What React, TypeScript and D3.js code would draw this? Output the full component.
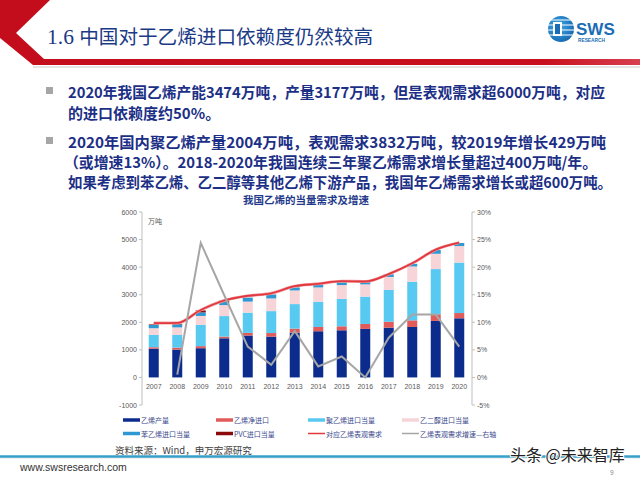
import React from 'react';
import * as d3 from 'd3';

const years = ['2007', '2008', '2009', '2010', '2011', '2012', '2013', '2014', '2015', '2016', '2017', '2018', '2019', '2020'];
const production = [1040, 1010, 1060, 1420, 1520, 1480, 1625, 1675, 1710, 1760, 1805, 1830, 2050, 2145];
const netImport = [55, 70, 75, 60, 95, 130, 145, 155, 145, 180, 215, 240, 240, 190];
const peImport = [450, 460, 770, 745, 735, 795, 890, 915, 990, 990, 1155, 1400, 1640, 1830];
const egImport = [240, 275, 325, 400, 400, 460, 495, 520, 505, 445, 470, 555, 555, 600];
const styreneImport = [120, 110, 130, 120, 145, 145, 110, 110, 110, 100, 95, 95, 140, 110];
const pvcImport = [20, 20, 70, 45, 0, 0, 0, 0, 0, 0, 0, 0, 0, 0];
const demand = [1970, 1975, 2445, 2790, 2960, 3050, 3310, 3395, 3490, 3480, 3750, 4140, 4635, 4890];
const growth: (number | null)[] = [null, 0.5, 24.4, 14.9, 5.6, 2.3, 8.4, 2.0, 3.8, 0.0, 7.2, 11.4, 11.4, 5.6];

const leftTicks = [-1000, 0, 1000, 2000, 3000, 4000, 5000, 6000];
const rightTicks = [-5, 0, 5, 10, 15, 20, 25, 30];

const seriesNames = ['乙烯产量', '乙烯净进口', '聚乙烯进口当量', '乙二醇进口当量', '苯乙烯进口当量', 'PVC进口当量'];
const seriesColors = ['#0b2c8c', '#e15b5b', '#58c9f1', '#f6d4d7', '#2e98d2', '#8b0a0a'];
const lineNames = ['对应乙烯表观需求', '乙烯表观需求增速—右轴'];
const lineColors = ['#e0383e', '#a6a6a6'];

const bullet1 = ['2020年我国乙烯产能3474万吨，产量3177万吨，但是表观需求超6000万吨，对应', '的进口依赖度约50%。'];
const bullet2 = [
  '2020年国内聚乙烯产量2004万吨，表观需求3832万吨，较2019年增长429万吨',
  '（或增速13%）。2018-2020年我国连续三年聚乙烯需求增长量超过400万吨/年。',
  '如果考虑到苯乙烯、乙二醇等其他乙烯下游产品，我国年乙烯需求增长或超600万吨。',
];

const CJK = '"Noto Sans CJK SC", "Noto Sans", sans-serif';
const SANS = '"Liberation Sans", Arial, sans-serif';

export default function App() {
  const seriesArrays = [production, netImport, peImport, egImport, styreneImport, pvcImport];
  const table = years.map((y, i) => {
    const row: any = { year: y };
    seriesNames.forEach((n, k) => (row[n] = seriesArrays[k][i]));
    return row;
  });
  const stacked = d3.stack().keys(seriesNames)(table);

  const x = d3.scaleBand().domain(years).range([142, 471]).padding(0);
  const y = d3.scaleLinear().domain([-1000, 6000]).range([405, 212]);
  const yR = d3.scaleLinear().domain([-5, 30]).range([405, 212]);
  const bw = 10;
  const cx = (yr: string) => (x(yr) as number) + x.bandwidth() / 2;

  const demandLine = d3
    .line<number>()
    .x((_, i) => cx(years[i]))
    .y((d) => y(d))
    .curve(d3.curveMonotoneX)(demand) as string;

  const growthLine = d3
    .line<number | null>()
    .defined((d) => d !== null)
    .x((_, i) => cx(years[i]))
    .y((d) => yR(d as number))(growth) as string;

  const legendCols = [123, 216, 308, 402];
  const legendRows = [420, 433.5];
  const legendItems = [
    ...seriesNames.map((n, i) => ({ name: n, color: seriesColors[i], bar: true })),
    ...lineNames.map((n, i) => ({ name: n, color: lineColors[i], bar: false })),
  ];

  return (
    <svg width={640} height={480} style={{ position: 'fixed', left: 0, top: 0, background: '#fff' }}>
      <rect width={640} height={480} fill="#fff" />
      <defs>
        <linearGradient id="band" x1="0" x2="1" y1="0" y2="0">
          <stop offset="0" stopColor="#c40d1c" />
          <stop offset="0.85" stopColor="#c8101e" />
          <stop offset="1" stopColor="#d84050" />
        </linearGradient>
        <radialGradient id="logo" cx="0.4" cy="0.4" r="0.7">
          <stop offset="0" stopColor="#3fa9e6" />
          <stop offset="1" stopColor="#1363ad" />
        </radialGradient>
      </defs>

      {/* header */}
      <polygon points="0,0 50,0 16,33 44,59 640,59 640,65 33,65 0,38" fill="url(#band)" />
      <line x1={33} x2={640} y1={67} y2={67} stroke="#dcdcdc" strokeWidth={1.5} />
      <text x={47} y={44} fontSize={19.6} fill="#1b3a86" fontFamily={CJK}>
        <tspan fontFamily='"Liberation Serif", serif' fontSize={21.5}>1.6 </tspan>
        中国对于乙烯进口依赖度仍然较高
      </text>

      {/* logo */}
      <g>
        <circle cx={561} cy={29} r={13} fill="url(#logo)" />
        {[20, 25, 30, 35].map((yy) => (
          <line key={yy} x1={548} x2={574} y1={yy} y2={yy} stroke="#fff" strokeWidth={1} />
        ))}
        <rect x={553} y={22} width={9} height={14} fill="#fff" />
        <rect x={555} y={24} width={5} height={10} fill="#1a6db5" />
        <text x={576} y={35} fontSize={17} fontWeight="bold" fill="#1a6db5" fontFamily={SANS}>SWS</text>
        <text x={578} y={42} fontSize={4.8} fontWeight="bold" fill="#1a6db5" fontFamily={SANS}>RESEARCH</text>
      </g>

      {/* bullets */}
      <rect x={46} y={87} width={7} height={7} fill="#a6a6a6" />
      <rect x={46} y={137} width={7} height={7} fill="#a6a6a6" />
      <g fontFamily={CJK} fontWeight="bold" fill="#1c2f86" fontSize={15}>
        <text x={68} y={91} dominantBaseline="central" textLength={537} lengthAdjust="spacingAndGlyphs">{bullet1[0]}</text>
        <text x={68} y={112} dominantBaseline="central">{bullet1[1]}</text>
        <text x={68} y={141} dominantBaseline="central" textLength={538} lengthAdjust="spacingAndGlyphs">{bullet2[0]}</text>
        <text x={64} y={161} dominantBaseline="central" textLength={533} lengthAdjust="spacingAndGlyphs">{bullet2[1]}</text>
        <text x={68} y={181} dominantBaseline="central" textLength={544} lengthAdjust="spacingAndGlyphs">{bullet2[2]}</text>
      </g>

      {/* chart title */}
      <text x={306} y={199} textAnchor="middle" dominantBaseline="central" fontSize={10.5} fontWeight="bold" fill="#1f3a8a" fontFamily={CJK}>
        我国乙烯的当量需求及增速
      </text>

      {/* axes */}
      <line x1={142} x2={142} y1={212} y2={405} stroke="#bfbfbf" />
      <line x1={472} x2={472} y1={212} y2={405} stroke="#bfbfbf" />
      {leftTicks.map((t) => (
        <g key={'l' + t}>
          <line x1={139} x2={142} y1={y(t)} y2={y(t)} stroke="#bfbfbf" />
          <text x={137} y={y(t)} textAnchor="end" dominantBaseline="central" fontSize={7} fill="#595959" fontFamily={SANS}>{t}</text>
        </g>
      ))}
      {rightTicks.map((t) => (
        <g key={'r' + t}>
          <line x1={472} x2={475} y1={yR(t)} y2={yR(t)} stroke="#bfbfbf" />
          <text x={477} y={yR(t)} dominantBaseline="central" fontSize={7} fill="#595959" fontFamily={SANS}>{t + '%'}</text>
        </g>
      ))}
      <text x={148} y={221} dominantBaseline="central" fontSize={7} fill="#595959" fontFamily={CJK}>万吨</text>
      {years.map((yr) => (
        <text key={yr} x={cx(yr)} y={386} textAnchor="middle" dominantBaseline="central" fontSize={7} fill="#595959" fontFamily={SANS}>{yr}</text>
      ))}

      {/* bars */}
      {stacked.map((s, k) => (
        <g key={s.key} fill={seriesColors[k]}>
          {s.map((d, i) =>
            d[1] - d[0] > 0 ? (
              <rect key={i} x={cx(years[i]) - bw / 2} y={y(d[1])} width={bw} height={y(d[0]) - y(d[1])} />
            ) : null
          )}
        </g>
      ))}

      {/* lines */}
      <path d={demandLine} fill="none" stroke="#f2a0a4" strokeWidth={3} />
      <path d={demandLine} fill="none" stroke={lineColors[0]} strokeWidth={1.8} />
      <path d={growthLine} fill="none" stroke={lineColors[1]} strokeWidth={2} />

      {/* legend */}
      {legendItems.map((it, j) => {
        const lx = legendCols[j % 4];
        const ly = legendRows[Math.floor(j / 4)];
        return (
          <g key={it.name}>
            <line x1={lx} x2={lx + 17} y1={ly} y2={ly} stroke={it.color} strokeWidth={it.bar ? 3.5 : 1.5} />
            <text x={lx + 18} y={ly} dominantBaseline="central" fontSize={7} fill="#3b4a8c" fontFamily={CJK}>{it.name}</text>
          </g>
        );
      })}

      {/* source */}
      <text x={115} y={450} dominantBaseline="central" fontSize={9.5} fill="#404040" fontFamily={CJK}>资料来源：Wind，申万宏源研究</text>

      {/* footer */}
      <line x1={0} x2={640} y1={458} y2={458} stroke="#e3e3e3" strokeWidth={1} />
      <line x1={0} x2={640} y1={456.5} y2={456.5} stroke="#36a0cb" strokeWidth={2.5} />
      <text x={20} y={467} dominantBaseline="central" fontSize={10.5} fill="#333" fontFamily={SANS}>www.swsresearch.com</text>
      <text x={510} y={454} dominantBaseline="central" fontSize={16} fill="#222" stroke="#fff" strokeWidth={2} paintOrder="stroke" fontFamily={CJK}>头条 @未来智库</text>
      <text x={610} y={472} dominantBaseline="central" fontSize={6.5} fill="#888" fontFamily={SANS}>9</text>
    </svg>
  );
}
